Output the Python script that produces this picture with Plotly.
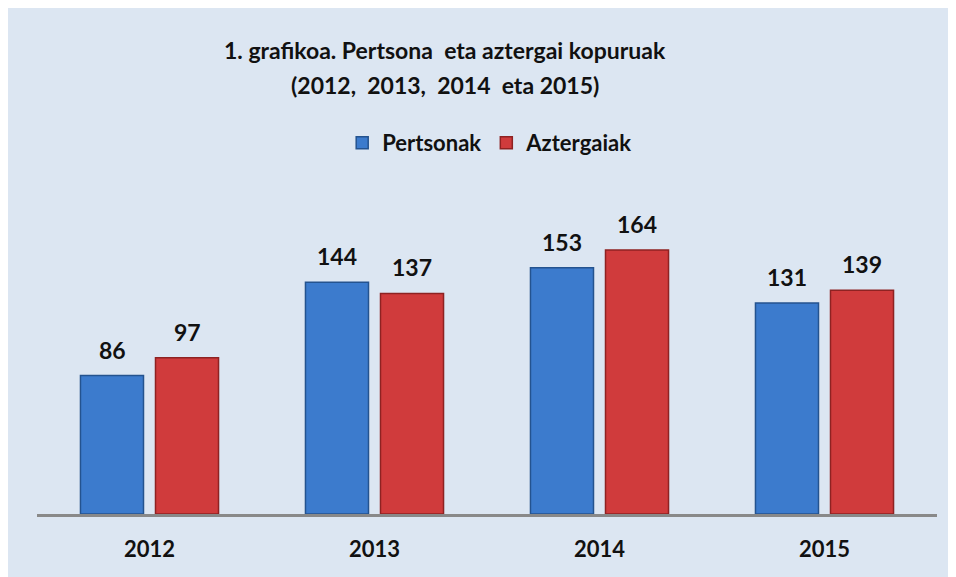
import plotly.graph_objects as go

years = ["2012", "2013", "2014", "2015"]
pertsonak = [86, 144, 153, 131]
aztergaiak = [97, 137, 164, 139]
series_names = ["Pertsonak", "Aztergaiak"]

font_fam = "Lato, 'Open Sans', sans-serif"
ink = "#111111"

fig = go.Figure()
fig.add_trace(go.Bar(
    x=years, y=pertsonak, name="<b>" + series_names[0] + "</b>",
    marker=dict(color="#3C7BCD", line=dict(color="#24538F", width=1.5)),
))
fig.add_trace(go.Bar(
    x=years, y=aztergaiak, name="<b>" + series_names[1] + "</b>",
    marker=dict(color="#D03B3C", line=dict(color="#8E2222", width=1.5)),
))

# value labels above each bar (category index positions on the category axis)
for vals, shift in ((pertsonak, -37.5), (aztergaiak, 37.5)):
    for i, v in enumerate(vals):
        fig.add_annotation(
            x=i, y=v, xref="x", yref="y", text="<b>%d</b>" % v,
            showarrow=False, xshift=shift, yshift=10, yanchor="bottom",
            font=dict(family=font_fam, size=23, color=ink),
        )

# two title lines
fig.add_annotation(
    x=0.453, y=1.441, xref="paper", yref="paper", showarrow=False,
    text="<b>1. grafikoa. Pertsona  eta aztergai kopuruak</b>",
    xanchor="center", yanchor="middle",
    font=dict(family=font_fam, size=23, color=ink),
)
fig.add_annotation(
    x=0.453, y=1.332, xref="paper", yref="paper", showarrow=False,
    text="<b>(2012,  2013,  2014  eta 2015)</b>",
    xanchor="center", yanchor="middle",
    font=dict(family=font_fam, size=23, color=ink),
)

fig.update_layout(
    width=956, height=577,
    paper_bgcolor="#DCE6F2", plot_bgcolor="#DCE6F2",
    margin=dict(l=29, r=27, t=184, b=71),
    barmode="group", bargap=0.333, bargroupgap=0.16,
    legend=dict(
        orientation="h", x=0.503, xanchor="center", y=1.152, yanchor="middle",
        font=dict(family=font_fam, size=22, color=ink),
        bgcolor="rgba(0,0,0,0)", traceorder="normal",
        itemwidth=30, tracegroupgap=0,
    ),
    showlegend=True,
)
fig.update_xaxes(
    type="category", range=[-0.5, len(years) - 0.5],
    showline=True, linecolor="#898989", linewidth=3,
    ticks="", tickfont=dict(family=font_fam, size=22, color=ink),
    ticklabelstandoff=14,
    tickprefix="<b>", ticksuffix="</b>", showgrid=False,
)
fig.update_yaxes(range=[0, 200], visible=False, showgrid=False)

fig.write_html("out.html")
